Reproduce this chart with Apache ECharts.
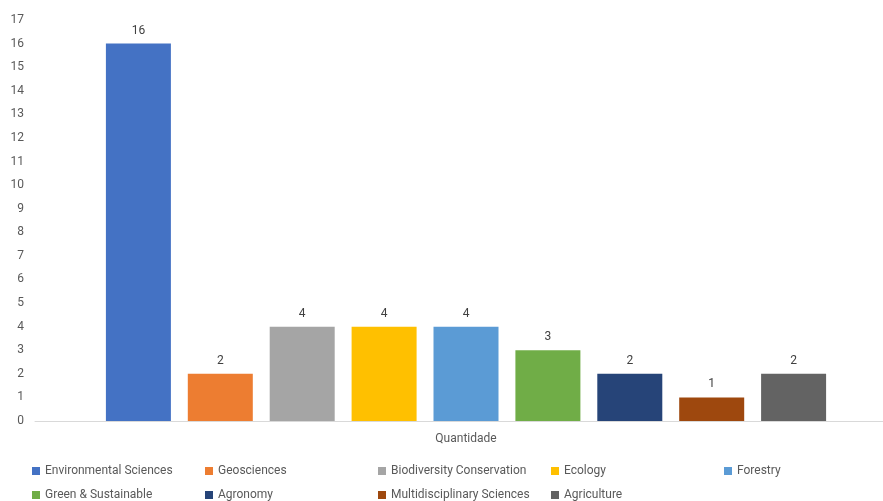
<!DOCTYPE html>
<html>
<head>
<meta charset="utf-8">
<script src="https://cdn.jsdelivr.net/npm/echarts@6/dist/echarts.min.js"></script>
<style>html,body{margin:0;padding:0;background:#fff}#c{width:883px;height:501px}</style>
</head>
<body>
<div id="c"></div>
<script>
const categories = ["Quantidade"];
const seriesNames = ["Environmental Sciences","Geosciences","Biodiversity Conservation","Ecology","Forestry","Green & Sustainable","Agronomy","Multidisciplinary Sciences","Agriculture"];
const seriesValues = [16, 2, 4, 4, 4, 3, 2, 1, 2];
const colors = ["#4472C4","#ED7D31","#A5A5A5","#FFC000","#5B9BD5","#70AD47","#264478","#9E480E","#636363"];
const font = "Roboto, 'Liberation Sans', sans-serif";
const chart = echarts.init(document.getElementById('c'), null, {renderer:'canvas'});
chart.setOption({
  animation: false,
  color: colors,
  textStyle: {fontFamily: font},
  grid: [
    {left: 49, right: 0, top: 20, bottom: 80, containLabel: false},
    {left: 35, right: 0, top: 20, bottom: 80, containLabel: false}
  ],
  xAxis: [{
    type: 'category', data: categories, gridIndex: 0,
    axisLine: {show: false},
    axisTick: {show: false},
    axisLabel: {color: '#595959', fontSize: 12, margin: 12, fontFamily: font}
  }, {
    type: 'category', data: [''], gridIndex: 1,
    axisLine: {show: true, lineStyle: {color: '#D9D9D9', width: 1}},
    axisTick: {show: false},
    axisLabel: {show: false}
  }],
  yAxis: [{
    type: 'value', min: 0, max: 17, interval: 1, gridIndex: 0,
    axisLine: {show: false}, axisTick: {show: false},
    splitLine: {show: false},
    axisLabel: {show: false}
  }, {
    type: 'value', min: 0, max: 17, interval: 1, gridIndex: 1,
    axisLine: {show: false}, axisTick: {show: false},
    splitLine: {show: false},
    axisLabel: {color: '#595959', fontSize: 12, margin: 11, align: 'right', fontFamily: font}
  }],
  legend: {
    left: 27, top: 454, width: 870,
    itemWidth: 8, itemHeight: 8, itemGap: 0, icon: 'rect',
    data: seriesNames,
    textStyle: {color: '#595959', fontSize: 12, width: 160, lineHeight: 24, fontFamily: font}
  },
  series: seriesNames.map((n, i) => ({
    name: n, type: 'bar', xAxisIndex: 0, yAxisIndex: 0,
    data: [seriesValues[i]],
    barWidth: 65, barGap: '26%',
    itemStyle: {color: colors[i]},
    label: {show: true, position: 'top', color: '#404040', fontSize: 12, distance: 7, fontFamily: font}
  }))
});
</script>
</body>
</html>
